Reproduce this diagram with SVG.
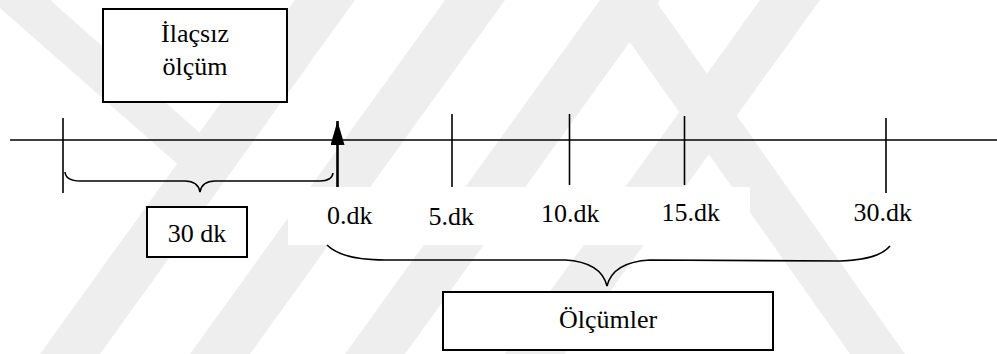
<svg xmlns="http://www.w3.org/2000/svg" width="997" height="354" viewBox="0 0 997 354">
  <style>
    .bg { fill: #ffffff; }
    .mark { fill: #eeeeee; }
    .axis { stroke: #000; stroke-width: 1.5; fill: none; }
    .tick { stroke: #000; stroke-width: 1.6; fill: none; }
    .brace { stroke: #000; stroke-width: 1.6; fill: none; }
    .box { fill: #ffffff; stroke: #000; stroke-width: 2; }
    .lbl { font-family: "Liberation Serif", "Times New Roman", serif; font-size: 26px; fill: #000; }
    .mid { text-anchor: middle; }
  </style>
  <defs>
    <!-- solid triangular head, drawn along +x so orient="auto" follows the line -->
    <marker id="head" markerWidth="24" markerHeight="14" refX="24" refY="7" orient="auto" markerUnits="userSpaceOnUse" viewBox="0 0 24 14">
      <path d="M0,0 L24,7 L0,14 Z" fill="#000"/>
    </marker>
  </defs>

  <rect class="bg" x="0" y="0" width="997" height="354"/>

  <!-- faint diagonal background bands -->
  <g id="backdrop">
    <polygon class="mark" points="0,0 50,0 236,165 190,175 0,8"/>
    <polygon class="mark" points="295,0 355,0 100,354 40,354"/>
    <polygon class="mark" points="445,0 505,0 250,354 190,354"/>
    <polygon class="mark" points="600,0 660,0 405,354 345,354"/>
    <polygon class="mark" points="760,0 820,0 565,354 505,354"/>
    <polygon class="mark" points="600,0 655,0 905,354 850,354"/>
    <rect fill="#ffffff" x="288" y="187" width="462" height="58"/>
  </g>

  <!-- time axis and marks -->
  <g id="connectors">
    <line class="axis" x1="10" y1="140" x2="997" y2="140"/>
    <line class="tick" x1="63" y1="118" x2="63" y2="193"/>
    <line class="tick" x1="452" y1="114" x2="452" y2="187"/>
    <line class="tick" x1="569.5" y1="114" x2="569.5" y2="185"/>
    <line class="tick" x1="684.5" y1="116" x2="684.5" y2="185"/>
    <line class="tick" x1="886" y1="118" x2="886" y2="193"/>
    <line x1="337.5" y1="187" x2="337.5" y2="121" stroke="#000" stroke-width="2.6" marker-end="url(#head)"/>
    <path class="brace" d="M65,172 Q66,181 80,181 L185,181 Q198,181 200,192 Q202,181 215,181 L320,181 Q332,181 333,173"/>
    <path class="brace" d="M327,245 Q342,260 385,260 L565,260 Q601,262 607,286 Q613,262 650,260 L840,261 Q878,260 890,246"/>
  </g>

  <g id="node-ilacsiz">
    <rect class="box" x="103" y="9" width="184" height="93"/>
    <text class="lbl mid" x="195" y="42">İlaçsız</text>
    <text class="lbl mid" x="195" y="75">ölçüm</text>
  </g>

  <g id="node-30dk">
    <rect class="box" x="147" y="207" width="100" height="50"/>
    <text class="lbl mid" x="197" y="241.5">30 dk</text>
  </g>

  <g id="labels">
    <text class="lbl" x="327" y="224">0.dk</text>
    <text class="lbl" x="428.5" y="225">5.dk</text>
    <text class="lbl" x="541" y="222">10.dk</text>
    <text class="lbl" x="661.5" y="221">15.dk</text>
    <text class="lbl" x="853.5" y="221">30.dk</text>
  </g>

  <g id="node-olcumler">
    <rect class="box" x="443" y="292" width="330" height="58"/>
    <text class="lbl mid" x="608" y="328">Ölçümler</text>
  </g>
</svg>
